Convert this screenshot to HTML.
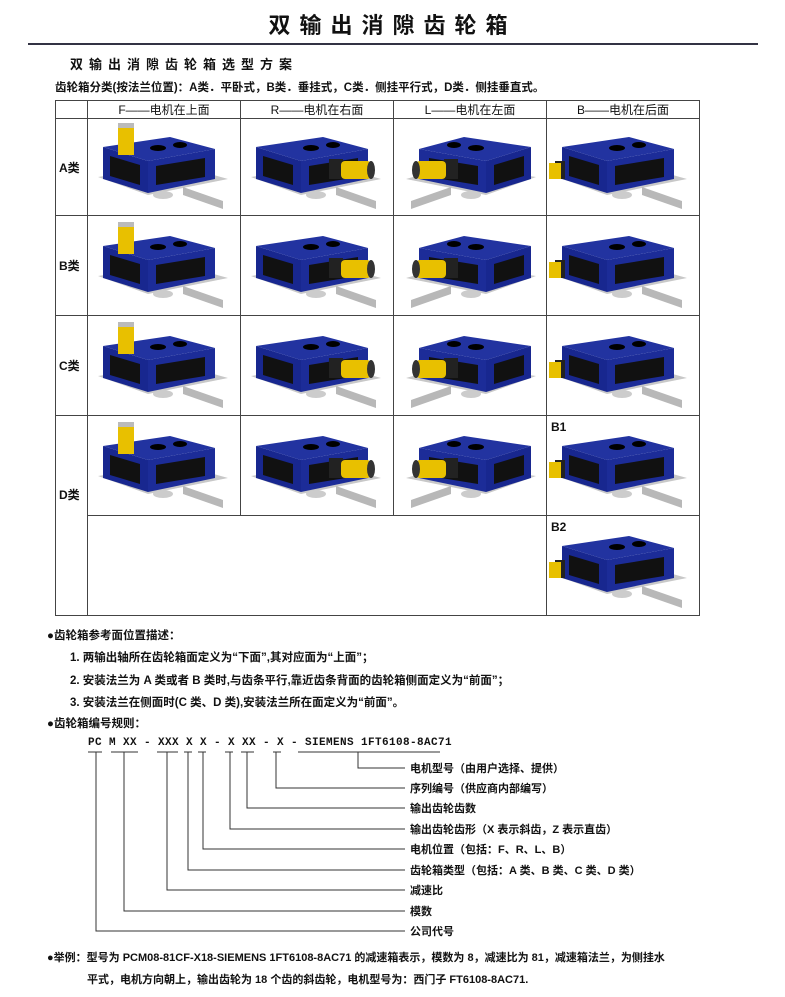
<!DOCTYPE html>
<html><head><meta charset="utf-8">
<style>
body{margin:0;width:785px;height:997px;background:#fff;position:relative;font-family:"Liberation Sans","Noto Sans CJK SC",sans-serif;color:#111;overflow:hidden}
.a{position:absolute;white-space:nowrap}
table{position:absolute;left:55px;top:100px;border-collapse:collapse}
td{border:1px solid #444;padding:0;position:relative;vertical-align:middle}
.h td{height:16px;font-size:12px;text-align:center}
.l{width:31px;font-size:12px;font-weight:bold;text-align:left;padding-left:3px;box-sizing:border-box}
.c{width:152px}
svg.g{display:block}
</style></head><body>
<div class="a" style="left:0;width:785px;text-align:center;top:8px;font-size:22px;font-weight:bold;letter-spacing:9px;font-family:'Noto Sans CJK SC',sans-serif">双输出消隙齿轮箱</div>
<div class="a" style="left:28px;top:43px;width:730px;height:2px;background:#334"></div>
<div class="a" style="left:70px;top:54px;font-size:13px;letter-spacing:6px;font-weight:bold">双输出消隙齿轮箱选型方案</div>
<div class="a" style="left:55px;top:79px;font-size:11.5px;font-weight:bold">齿轮箱分类(按法兰位置)：A类．平卧式，B类．垂挂式，C类．侧挂平行式，D类．侧挂垂直式。</div>
<table>
<tr class="h"><td style="width:31px"></td><td class="c">F——电机在上面</td><td class="c">R——电机在右面</td><td class="c">L——电机在左面</td><td class="c">B——电机在后面</td></tr>
<tr style="height:97px"><td class="l">A类</td><td data="t"></td><td data="r"></td><td data="l"></td><td data="b"></td></tr>
<tr style="height:100px"><td class="l">B类</td><td data="t"></td><td data="r"></td><td data="l"></td><td data="b"></td></tr>
<tr style="height:100px"><td class="l">C类</td><td data="t"></td><td data="r"></td><td data="l"></td><td data="b"></td></tr>
<tr style="height:100px"><td class="l" rowspan="2" style="vertical-align:top;padding-top:70px">D类</td><td data="t"></td><td data="r"></td><td data="l"></td><td data="b" lab="B1"></td></tr>
<tr style="height:100px"><td colspan="3"></td><td data="b" lab="B2"></td></tr>
</table>
<div class="a" style="left:47px;top:627px;font-size:11.5px;font-weight:bold">●齿轮箱参考面位置描述：</div>
<div class="a" style="left:70px;top:649px;font-size:11.5px;font-weight:bold">1. 两输出轴所在齿轮箱面定义为“下面”,其对应面为“上面”；</div>
<div class="a" style="left:70px;top:672px;font-size:11.5px;font-weight:bold">2. 安装法兰为 A 类或者 B 类时,与齿条平行,靠近齿条背面的齿轮箱侧面定义为“前面”；</div>
<div class="a" style="left:70px;top:694px;font-size:11.5px;font-weight:bold">3. 安装法兰在侧面时(C 类、D 类),安装法兰所在面定义为“前面”。</div>
<div class="a" style="left:47px;top:715px;font-size:11.5px;font-weight:bold">●齿轮箱编号规则：</div>
<div class="a" style="left:88px;top:737px;font-size:11px;font-family:'Liberation Mono',monospace;font-weight:bold;letter-spacing:0.4px">PC M XX - XXX X X - X XX - X - SIEMENS 1FT6108-8AC71</div>
<svg class="a" style="left:0;top:0" width="785" height="997">
<g stroke="#333" stroke-width="1" fill="none">
<path d="M88 752H102M111 752H138M157 752H178M184 752H192M198 752H206M225 752H233M241 752H254M273 752H281M298 752H440"/>
<path d="M358 752V768H405M276 752V788H405M247 752V808H405M230 752V829H405M203 752V849H405M188 752V870H405M167 752V890H405M124 752V911H405M96 752V931H405"/>
</g>
<g font-size="11" font-weight="bold" fill="#111">
<text x="410" y="772">电机型号（由用户选择、提供）</text>
<text x="410" y="792">序列编号（供应商内部编写）</text>
<text x="410" y="812">输出齿轮齿数</text>
<text x="410" y="833">输出齿轮齿形（X 表示斜齿，Z 表示直齿）</text>
<text x="410" y="853">电机位置（包括：F、R、L、B）</text>
<text x="410" y="874">齿轮箱类型（包括：A 类、B 类、C 类、D 类）</text>
<text x="410" y="894">减速比</text>
<text x="410" y="915">模数</text>
<text x="410" y="935">公司代号</text>
</g>
</svg>
<div class="a" style="left:47px;top:949px;font-size:11px;font-weight:bold">●举例：型号为 PCM08-81CF-X18-SIEMENS 1FT6108-8AC71 的减速箱表示，模数为 8，减速比为 81，减速箱法兰，为侧挂水</div>
<div class="a" style="left:87px;top:971px;font-size:11px;font-weight:bold">平式，电机方向朝上，输出齿轮为 18 个齿的斜齿轮，电机型号为：西门子 FT6108-8AC71.</div>
<script>
function svg(m,lab){
 var s='<svg class="g" width="152" height="96" viewBox="0 0 152 96">';
 var flip=(m=='l');
 s+='<g'+(flip?' transform="translate(152,0) scale(-1,1)"':'')+'>';
 s+='<polygon points="10,58 60,76 140,60 90,46" fill="#c8c8c8"/>';
 s+='<polygon points="95,68 135,82 135,90 95,76" fill="#b8b8b8"/>';
 s+='<ellipse cx="75" cy="76" rx="10" ry="4" fill="#ccc"/>';
 s+='<polygon points="15,28 60,42 60,74 15,60" fill="#18278f"/>';
 s+='<polygon points="60,42 127,30 127,60 60,74" fill="#1c2c98"/>';
 s+='<polygon points="15,28 60,42 127,30 82,18" fill="#2233a0"/>';
 s+='<polygon points="22,37 52,46 52,66 22,57" fill="#111"/>';
 s+='<polygon points="68,47 117,39 117,58 68,66" fill="#111"/>';
 s+='<ellipse cx="70" cy="29" rx="8" ry="3" fill="#000"/><ellipse cx="92" cy="26" rx="7" ry="3" fill="#000"/>';
 if(m=='t'){s+='<rect x="30" y="6" width="16" height="30" fill="#e8c000"/><rect x="30" y="4" width="16" height="5" fill="#bbb"/>';}
 else if(m=='r'||m=='l'){s+='<rect x="88" y="40" width="14" height="20" fill="#222"/><rect x="100" y="42" width="30" height="18" rx="4" fill="#e8c000"/><ellipse cx="130" cy="51" rx="4" ry="9" fill="#333"/>';}
 else {s+='<rect x="8" y="42" width="10" height="18" fill="#222"/><rect x="2" y="44" width="12" height="16" fill="#e8c000"/>';}
 s+='</g>';
 if(lab)s+='<text x="4" y="13" font-size="12" font-weight="bold" fill="#111">'+lab+'</text>';
 return s+'</svg>';
}
document.querySelectorAll('td[data]').forEach(function(t){t.innerHTML=svg(t.getAttribute('data'),t.getAttribute('lab'));});
</script>
</body></html>
